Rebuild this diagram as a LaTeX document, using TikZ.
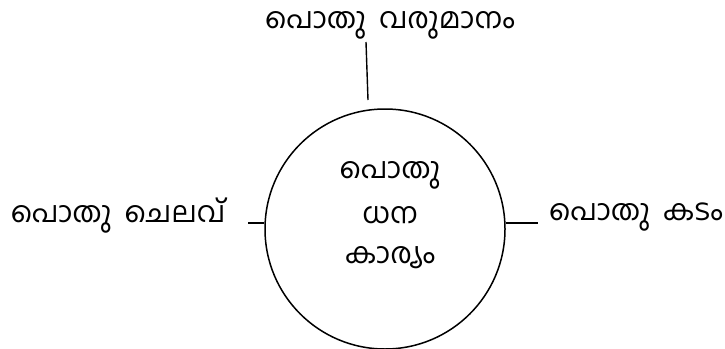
\documentclass[tikz,border=0pt]{standalone}
\usepackage{fontspec}
\newfontfamily\mal[Script=Malayalam]{Hind Kochi}
\begin{document}
\begin{tikzpicture}[x=1pt,y=1pt,
  lbl/.style={font=\mal\fontsize{29}{32}\selectfont, inner sep=0pt, text=black},
  ring/.style={draw=black, line width=1.5pt, circle, minimum size=240pt, inner sep=0pt},
  conn/.style={draw=black, line width=1.4pt}]
\useasboundingbox (0,0) rectangle (725,-348);
\node[ring] (c) at (385,-229) {};
\node[lbl] (t) at (390,-25) {പൊതു\hspace{6pt} വരുമാനം};
\node[lbl] (l) at (118,-216) {പൊതു\hspace{6pt} ചെലവ്};
\node[lbl] (r) at (636,-217) {പൊതു\hspace{6pt} കടം};
\node[lbl] (m1) at (390,-175) {പൊതു};
\node[lbl] (m2) at (390,-215) {ധന};
\node[lbl] (m3) at (390,-258) {കാര്യം};
\coordinate (ta) at (366,-42);
\coordinate (tb) at (368,-100);
\coordinate (le) at (248,-223);
\coordinate (re) at (538,-223);
\draw[conn] (ta) -- (tb);
\draw[conn] (le) -- (c.west |- le);
\draw[conn] (c.east |- re) -- (re);
\end{tikzpicture}
\end{document}
